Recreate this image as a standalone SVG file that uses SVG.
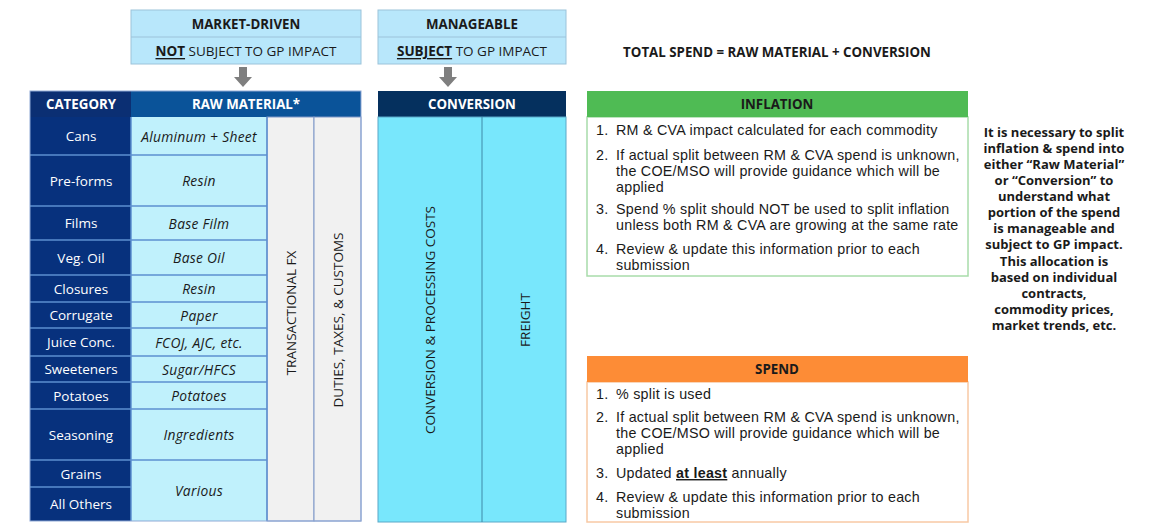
<svg xmlns="http://www.w3.org/2000/svg" width="1150" height="527" viewBox="0 0 1150 527">
<style>
text{font-family:"Open Sans","Noto Sans","Liberation Sans",sans-serif;fill:#1a1a1a}
.hdr{font-weight:700;font-size:13.3px}
.top{font-size:13.5px}
.wh{fill:#ffffff}
.cat{font-size:13.5px;fill:#ffffff;text-anchor:middle;dominant-baseline:central}
.rm{font-size:13.8px;font-style:italic;letter-spacing:0.3px;text-anchor:middle;dominant-baseline:central}
.vert{font-size:13.5px;text-anchor:middle;dominant-baseline:central}
.li{font-family:"Liberation Sans","Arial",sans-serif;font-size:14.3px;letter-spacing:0.25px}
.side{font-size:13px;font-weight:700;text-anchor:middle}
.mid{text-anchor:middle;dominant-baseline:central}
</style>
<defs>
<path id="arr" d="M-4,0 H4 V10 H9 L0,20 L-9,10 H-4 Z" fill="#7f7f7f"/>
</defs>
<rect width="1150" height="527" fill="#ffffff"/>

<g id="market-driven">
<rect x="131" y="10" width="230" height="54" fill="#b8e7fb" stroke="#9cc3da" stroke-width="1"/>
<line x1="131" y1="37" x2="361" y2="37" stroke="#9cc3da"/>
<text x="246" y="24" class="hdr mid">MARKET-DRIVEN</text>
<text x="246" y="51" class="top mid"><tspan font-weight="700" text-decoration="underline">NOT</tspan> SUBJECT TO GP IMPACT</text>
</g>
<g id="manageable">
<rect x="378" y="10" width="188" height="54" fill="#b8e7fb" stroke="#9cc3da" stroke-width="1"/>
<line x1="378" y1="37" x2="566" y2="37" stroke="#9cc3da"/>
<text x="472" y="24" class="hdr mid">MANAGEABLE</text>
<text x="472" y="51" class="top mid"><tspan font-weight="700" text-decoration="underline">SUBJECT</tspan> TO GP IMPACT</text>
</g>
<g id="connectors">
<use href="#arr" x="243" y="67"/>
<use href="#arr" x="448" y="67"/>
</g>

<g id="total-spend">
<text x="777" y="52" class="hdr mid">TOTAL SPEND = RAW MATERIAL + CONVERSION</text>
</g>

<g id="raw-material-table">
<rect x="30" y="91" width="101" height="26" fill="#0b2f73"/>
<rect x="131" y="91" width="230" height="26" fill="#0a5399"/>
<text x="81" y="104" class="hdr wh mid">CATEGORY</text>
<text x="246" y="104" class="hdr wh mid">RAW MATERIAL*</text>
<rect x="30" y="117" width="101" height="404" fill="#07317d"/>
<rect x="131" y="117" width="136" height="404" fill="#c0f1fc"/>
<rect x="267" y="117" width="47" height="404" fill="#f1f1f1" stroke="#7f97c8" stroke-width="1"/>
<rect x="314" y="117" width="47" height="404" fill="#f1f1f1" stroke="#7f97c8" stroke-width="1"/>
<g stroke="#5d8fd0" stroke-width="1.5">
<line x1="30" y1="155" x2="267" y2="155"/>
<line x1="30" y1="206" x2="267" y2="206"/>
<line x1="30" y1="240" x2="267" y2="240"/>
<line x1="30" y1="275" x2="267" y2="275"/>
<line x1="30" y1="302" x2="267" y2="302"/>
<line x1="30" y1="328" x2="267" y2="328"/>
<line x1="30" y1="356" x2="267" y2="356"/>
<line x1="30" y1="382" x2="267" y2="382"/>
<line x1="30" y1="409" x2="267" y2="409"/>
<line x1="30" y1="460" x2="267" y2="460"/>
<line x1="30" y1="487" x2="131" y2="487"/>
<line x1="131" y1="117" x2="131" y2="521"/>
<line x1="267" y1="117" x2="267" y2="521"/>
</g>
<rect x="30" y="91" width="331" height="430" fill="none" stroke="#8fa9d6" stroke-width="1"/>
<text x="81" y="136" class="cat">Cans</text>
<text x="81" y="180.5" class="cat">Pre-forms</text>
<text x="81" y="223" class="cat">Films</text>
<text x="81" y="257.5" class="cat">Veg. Oil</text>
<text x="81" y="288.5" class="cat">Closures</text>
<text x="81" y="315" class="cat">Corrugate</text>
<text x="81" y="342" class="cat">Juice Conc.</text>
<text x="81" y="369" class="cat">Sweeteners</text>
<text x="81" y="395.5" class="cat">Potatoes</text>
<text x="81" y="434.5" class="cat">Seasoning</text>
<text x="81" y="473.5" class="cat">Grains</text>
<text x="81" y="504" class="cat">All Others</text>
<text x="199" y="136" class="rm">Aluminum + Sheet</text>
<text x="199" y="180.5" class="rm">Resin</text>
<text x="199" y="223" class="rm">Base Film</text>
<text x="199" y="257.5" class="rm">Base Oil</text>
<text x="199" y="288.5" class="rm">Resin</text>
<text x="199" y="315" class="rm">Paper</text>
<text x="199" y="342" class="rm">FCOJ, AJC, etc.</text>
<text x="199" y="369" class="rm">Sugar/HFCS</text>
<text x="199" y="395.5" class="rm">Potatoes</text>
<text x="199" y="434.5" class="rm">Ingredients</text>
<text x="199" y="490.5" class="rm">Various</text>
<text transform="translate(291,313) rotate(-90)" class="vert">TRANSACTIONAL FX</text>
<text transform="translate(338,320) rotate(-90)" class="vert">DUTIES, TAXES, &amp; CUSTOMS</text>
</g>

<g id="conversion">
<rect x="378" y="91" width="188" height="26" fill="#05305e"/>
<text x="472" y="104" class="hdr wh mid">CONVERSION</text>
<rect x="378" y="117" width="188" height="405" fill="#78e7fc" stroke="#5aa8c8" stroke-width="1"/>
<line x1="482" y1="117" x2="482" y2="522" stroke="#3f8aa8" stroke-width="1"/>
<text transform="translate(430,320) rotate(-90)" class="vert">CONVERSION &amp; PROCESSING COSTS</text>
<text transform="translate(525,320) rotate(-90)" class="vert">FREIGHT</text>
</g>

<g id="inflation">
<rect x="587" y="117" width="381" height="159" fill="#ffffff" stroke="#a8dcaa" stroke-width="1.5"/>
<rect x="587" y="91" width="381" height="26" fill="#4fbb54"/>
<text x="777" y="104" class="hdr mid">INFLATION</text>
<text x="596" y="135" class="li">1.</text><text x="616" y="135" class="li">RM &amp; CVA impact calculated for each commodity</text>
<text x="596" y="160" class="li">2.</text><text x="616" y="160" class="li">If actual split between RM &amp; CVA spend is unknown,</text>
<text x="616" y="176" class="li">the COE/MSO will provide guidance which will be</text>
<text x="616" y="192" class="li">applied</text>
<text x="596" y="214" class="li">3.</text><text x="616" y="214" class="li">Spend % split should NOT be used to split inflation</text>
<text x="616" y="230" class="li">unless both RM &amp; CVA are growing at the same rate</text>
<text x="596" y="254" class="li">4.</text><text x="616" y="254" class="li">Review &amp; update this information prior to each</text>
<text x="616" y="270" class="li">submission</text>
</g>

<g id="spend">
<rect x="587" y="382" width="381" height="140" fill="#ffffff" stroke="#f8c9a4" stroke-width="1.5"/>
<rect x="587" y="356" width="381" height="26" fill="#fd8c36"/>
<text x="777" y="369" class="hdr mid">SPEND</text>
<text x="596" y="399" class="li">1.</text><text x="616" y="399" class="li">% split is used</text>
<text x="596" y="422" class="li">2.</text><text x="616" y="422" class="li">If actual split between RM &amp; CVA spend is unknown,</text>
<text x="616" y="438" class="li">the COE/MSO will provide guidance which will be</text>
<text x="616" y="454" class="li">applied</text>
<text x="596" y="478" class="li">3.</text><text x="616" y="478" class="li">Updated <tspan font-weight="700" text-decoration="underline">at least</tspan> annually</text>
<text x="596" y="502" class="li">4.</text><text x="616" y="502" class="li">Review &amp; update this information prior to each</text>
<text x="616" y="518" class="li">submission</text>
</g>

<g id="note">
<text x="1054" y="137" class="side">It is necessary to split</text>
<text x="1054" y="153" class="side">inflation &amp; spend into</text>
<text x="1054" y="169" class="side">either “Raw Material”</text>
<text x="1054" y="185" class="side">or “Conversion” to</text>
<text x="1054" y="201" class="side">understand what</text>
<text x="1054" y="217" class="side">portion of the spend</text>
<text x="1054" y="233" class="side">is manageable and</text>
<text x="1054" y="249" class="side">subject to GP impact.</text>
<text x="1054" y="266" class="side">This allocation is</text>
<text x="1054" y="282" class="side">based on individual</text>
<text x="1054" y="298" class="side">contracts,</text>
<text x="1054" y="314" class="side">commodity prices,</text>
<text x="1054" y="330" class="side">market trends, etc.</text>
</g>
</svg>
